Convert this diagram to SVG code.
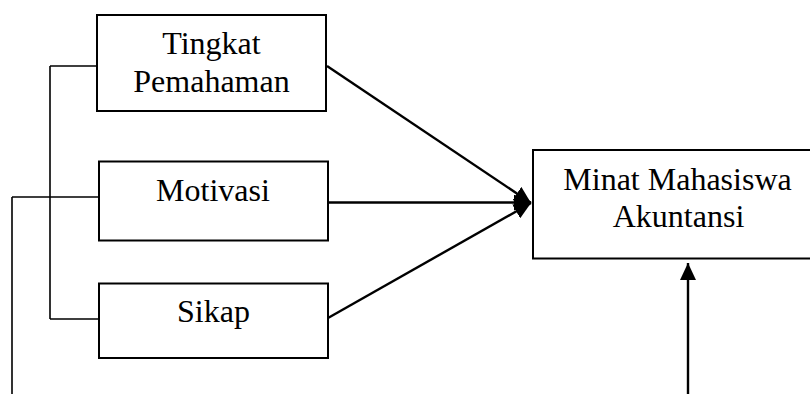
<svg xmlns="http://www.w3.org/2000/svg" width="810" height="394" viewBox="0 0 810 394">
<defs>
<style>
.box{fill:#fff;stroke:#000;stroke-width:2}
.lbl{font-family:"Liberation Serif","Times New Roman",serif;font-size:32px;fill:#000;text-anchor:middle}
.ln{fill:none;stroke:#000;stroke-width:1.6}
.ar{fill:none;stroke:#000;stroke-width:2.4;marker-end:url(#ah)}
</style>
<marker id="ah" markerUnits="userSpaceOnUse" markerWidth="18" markerHeight="16" refX="17" refY="8" orient="auto">
<path d="M0,0 L17,8 L0,16 Z" fill="#000"/>
</marker>
</defs>
<rect width="810" height="394" fill="#fff"/>
<g id="connectors">
<path class="ln" d="M50,66 L97,66 M50,197 L99,197 M50,319 L99,319 M50,66 L50,319 M12,197 L50,197 M12,197 L12,394"/>
<path class="ar" d="M327,66 L531,203"/>
<path class="ar" d="M328,202.5 L531,202.5"/>
<path class="ar" d="M328,318 L531,203"/>
<path class="ar" d="M688,394 L688,263"/>
</g>
<g id="tingkat">
<rect class="box" x="97" y="15" width="229" height="96"/>
<text class="lbl" x="211.5" y="54">Tingkat</text>
<text class="lbl" x="211.5" y="91.5">Pemahaman</text>
</g>
<g id="motivasi">
<rect class="box" x="99" y="161.5" width="229" height="79"/>
<text class="lbl" x="213" y="200.5">Motivasi</text>
</g>
<g id="sikap">
<rect class="box" x="99" y="283.5" width="229" height="74.5"/>
<text class="lbl" x="213.5" y="321.5">Sikap</text>
</g>
<g id="minat">
<rect class="box" x="533" y="150" width="290" height="108.5"/>
<text class="lbl" x="677.5" y="190">Minat Mahasiswa</text>
<text class="lbl" x="678.5" y="227">Akuntansi</text>
</g>
</svg>
